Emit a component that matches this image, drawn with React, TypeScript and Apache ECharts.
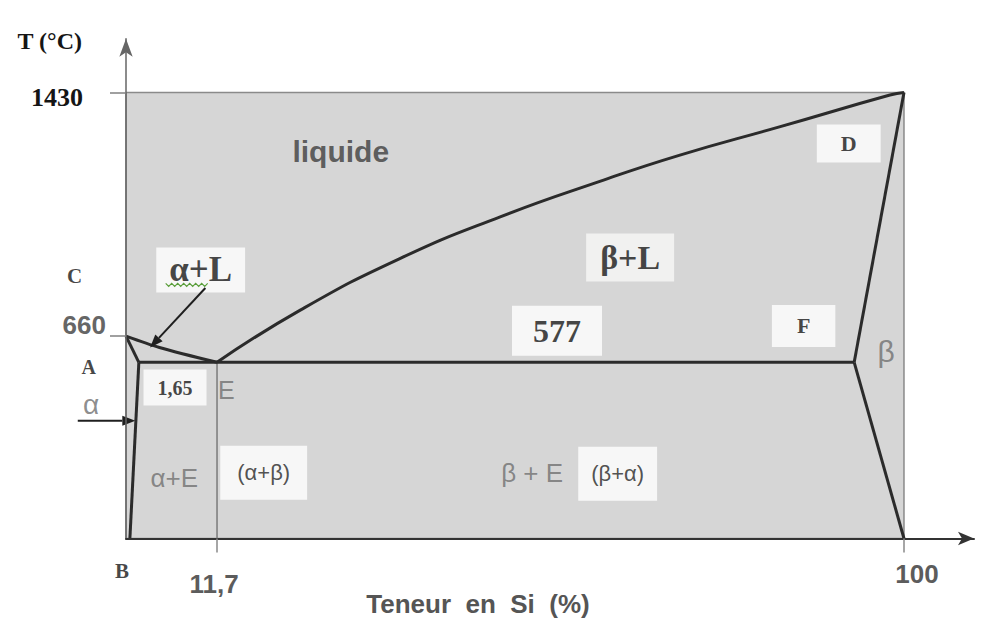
import React, { useEffect, useRef } from 'react';
import * as echarts from 'echarts';

// Phase boundaries of the Al–Si system: [Si content (%), temperature (°C)]
const liquidusAl = [[0, 660], [4.3, 624], [11.7, 577]];
const liquidusSi = [
  [11.7, 577], [22.4, 742], [35.2, 905], [48.1, 1037], [60.9, 1149],
  [71.2, 1232], [84.1, 1322], [98.2, 1422], [100, 1430],
];
const solidusAl = [[0, 660], [1.65, 577]];
const solvusAl = [[1.65, 577], [0.5, 20]];
const eutecticLine = [[1.65, 577], [93.6, 577]];
const solidusSi = [[100, 1430], [93.6, 577]];
const solvusSi = [[93.6, 577], [100, 20]];
const eutecticComposition = [[11.7, 577], [11.7, 20]];

// Axis ticks
const xTicks = [11.7, 100];
const yTicks = [660, 1430];

// Diagram extent
const T_ROOM = 20;
const T_SI_MELT = 1430;

const SERIF = '"Liberation Serif", "DejaVu Serif", serif';
const SANS = '"Liberation Sans", "DejaVu Sans", sans-serif';

type Note = { text: string; x: number; y: number; kind: string; size: number; pad?: number[] };

// Region and point labels, anchored in diagram coordinates
const notes: Note[] = [
  { text: 'C', x: -6.6, y: 850, kind: 'serif', size: 21 },
  { text: 'A', x: -4.8, y: 562, kind: 'serif', size: 20 },
  { text: 'α', x: -4.5, y: 445, kind: 'grey', size: 28 },
  { text: '1,65', x: 6.3, y: 497, kind: 'box', size: 20, pad: [8, 14] },
  { text: 'E', x: 12.9, y: 490, kind: 'grey', size: 25 },
  { text: 'α+L', x: 9.6, y: 869, kind: 'box', size: 35, pad: [5, 13] },
  { text: 'liquide', x: 27.6, y: 1242, kind: 'dark', size: 30 },
  { text: 'β+L', x: 64.8, y: 908, kind: 'boxSoft', size: 34, pad: [7, 14] },
  { text: '577', x: 55.4, y: 677, kind: 'box', size: 32, pad: [9, 21] },
  { text: 'D', x: 92.9, y: 1269, kind: 'box', size: 22, pad: [8, 24] },
  { text: 'F', x: 87.1, y: 692, kind: 'box', size: 22, pad: [10, 25] },
  { text: 'β', x: 97.7, y: 610, kind: 'grey', size: 30 },
  { text: 'α+E', x: 6.2, y: 212, kind: 'grey', size: 26 },
  { text: '(α+β)', x: 17.7, y: 228, kind: 'boxSans', size: 22, pad: [16, 17] },
  { text: 'β + E', x: 52.2, y: 226, kind: 'grey', size: 26 },
  { text: '(β+α)', x: 63.2, y: 225, kind: 'boxSans', size: 22, pad: [16, 13] },
  { text: 'B', x: -0.5, y: -83, kind: 'serif', size: 21 },
];

// Pointer arrows: [x1, T1, x2, T2], arrowhead at the second point
const arrows = [
  [-6.2, 392, 1.2, 392],
  [10.2, 812, 3.1, 624],
];

function labelStyle(n: Note) {
  const base: any = { show: true, position: 'inside', formatter: n.text, fontSize: n.size };
  switch (n.kind) {
    case 'serif':
      return { ...base, fontFamily: SERIF, fontWeight: 'bold', color: '#151515' };
    case 'box':
      return { ...base, fontFamily: SERIF, fontWeight: 'bold', color: '#151515', backgroundColor: '#ffffff', padding: n.pad };
    case 'boxSoft':
      return { ...base, fontFamily: SERIF, fontWeight: 'bold', color: '#151515', backgroundColor: '#f8f8f6', padding: n.pad };
    case 'boxSans':
      return { ...base, fontFamily: SANS, color: '#262626', backgroundColor: '#ffffff', padding: n.pad };
    case 'dark':
      return { ...base, fontFamily: SANS, fontWeight: 'bold', color: '#3d3d3d' };
    default:
      return { ...base, fontFamily: SANS, color: '#707070' };
  }
}

const boundary = (name: string, data: number[][], smooth: number | boolean = false) => ({
  name,
  type: 'line',
  data,
  smooth,
  showSymbol: false,
  symbol: 'none',
  silent: true,
  clip: false,
  z: 3,
  lineStyle: { color: '#2b2b2b', width: 3 },
});

export default function App() {
  const ref = useRef<HTMLDivElement>(null);

  useEffect(() => {
    if (!ref.current) return;
    const chart = echarts.init(ref.current, null, { renderer: 'svg' });

    const option: any = {
      animation: false,
      backgroundColor: '#ffffff',
      grid: { left: 126, right: 7, top: 38.7, bottom: 87.5, containLabel: false, outerBoundsMode: 'none' },
      xAxis: {
        type: 'value',
        min: 0,
        max: 109,
        z: 10,
        name: 'Teneur  en  Si  (%)',
        nameLocation: 'middle',
        nameGap: 52,
        nameMoveOverlap: false,
        nameTextStyle: {
          fontFamily: SANS, fontWeight: 'bold', fontSize: 26, color: '#555555',
          padding: [0, 144, 0, 0],
        },
        splitLine: { show: false },
        axisLine: {
          show: true,
          symbol: ['none', 'arrow'],
          symbolSize: [10, 16],
          lineStyle: { color: '#333333', width: 2 },
        },
        axisTick: {
          show: true,
          customValues: xTicks,
          length: 14,
          lineStyle: { color: '#888888', width: 1.5 },
        },
        axisLabel: {
          customValues: xTicks,
          margin: 22,
          formatter: (v: number) =>
            v === 100 ? '{b|100}' : '{a|' + String(v).replace('.', ',') + '}',
          rich: {
            a: { fontFamily: SANS, fontWeight: 'bold', fontSize: 26, color: '#5c5c5c', padding: [10, 6, 0, 0] },
            b: { fontFamily: SANS, fontWeight: 'bold', fontSize: 26, color: '#5c5c5c', padding: [0, 0, 0, 26] },
          },
        },
      },
      yAxis: {
        type: 'value',
        min: T_ROOM,
        max: 1600,
        z: 10,
        name: 'T (°C)',
        nameLocation: 'end',
        nameGap: -2,
        nameTextStyle: {
          fontFamily: SERIF, fontWeight: 'bold', fontSize: 24, color: '#151515',
          align: 'right', verticalAlign: 'middle', padding: [0, 44, 0, 0],
        },
        splitLine: { show: false },
        axisLine: {
          show: true,
          symbol: ['none', 'arrow'],
          symbolSize: [10, 18],
          lineStyle: { color: '#666666', width: 1.5 },
        },
        axisTick: {
          show: true,
          customValues: yTicks,
          length: 16,
          lineStyle: { color: '#808080', width: 1.5 },
        },
        axisLabel: {
          customValues: yTicks,
          margin: 20,
          formatter: (v: number) => (v === 1430 ? '{t|1430}' : '{g|' + v + '}'),
          rich: {
            t: { fontFamily: SERIF, fontWeight: 'bold', fontSize: 26, color: '#151515', padding: [11, 23, 0, 0] },
            g: { fontFamily: SANS, fontWeight: 'bold', fontSize: 26, color: '#666666', padding: [0, 0, 22, 0] },
          },
        },
      },
      series: [
        {
          name: 'domain',
          type: 'line',
          data: [[0, T_ROOM], [100, T_ROOM]],
          showSymbol: false,
          symbol: 'none',
          silent: true,
          z: 1,
          lineStyle: { width: 0, opacity: 0 },
          markArea: {
            silent: true,
            itemStyle: { color: '#d6d6d6', borderColor: '#8a8a8a', borderWidth: 1.5 },
            data: [[{ coord: [0, T_ROOM] }, { coord: [100, T_SI_MELT] }]],
          },
        },
        {
          name: 'eutectic composition',
          type: 'line',
          data: eutecticComposition,
          showSymbol: false,
          symbol: 'none',
          silent: true,
          clip: false,
          z: 2,
          lineStyle: { color: '#7a7a7a', width: 1.5 },
        },
        boundary('liquidus Al', liquidusAl, 0.3),
        boundary('liquidus Si', liquidusSi, 0.5),
        boundary('solidus Al', solidusAl),
        boundary('solvus Al', solvusAl),
        boundary('eutectic', eutecticLine),
        boundary('solidus Si', solidusSi),
        boundary('solvus Si', solvusSi),
        {
          name: 'pointers',
          type: 'custom',
          clip: false,
          silent: true,
          z: 7,
          encode: { x: [0, 2], y: [1, 3] },
          data: arrows,
          renderItem: (_params: any, api: any) => {
            const p1 = api.coord([api.value(0), api.value(1)]);
            const p2 = api.coord([api.value(2), api.value(3)]);
            const ang = Math.atan2(p2[1] - p1[1], p2[0] - p1[0]);
            const len = 13;
            const half = 5;
            const bx = p2[0] - len * Math.cos(ang);
            const by = p2[1] - len * Math.sin(ang);
            const nx = -Math.sin(ang) * half;
            const ny = Math.cos(ang) * half;
            return {
              type: 'group',
              children: [
                { type: 'line', shape: { x1: p1[0], y1: p1[1], x2: bx, y2: by }, style: { stroke: '#1f1f1f', lineWidth: 2 } },
                {
                  type: 'polygon',
                  shape: { points: [[p2[0], p2[1]], [bx + nx, by + ny], [bx - nx, by - ny]] },
                  style: { fill: '#1f1f1f' },
                },
              ],
            };
          },
        },
        {
          name: 'labels',
          type: 'scatter',
          clip: false,
          silent: true,
          z: 6,
          symbolSize: 1,
          itemStyle: { color: 'rgba(0,0,0,0)' },
          data: notes.map((n) => ({ value: [n.x, n.y], label: labelStyle(n) })),
        },
      ],
    };

    chart.setOption(option);

    // Wavy underline beneath the α+L label
    const al = notes.find((n) => n.text === 'α+L');
    if (al) {
      const [cx, cy] = chart.convertToPixel({ gridIndex: 0 }, [al.x, al.y]) as number[];
      const pts: number[][] = [];
      for (let i = 0; i <= 14; i++) pts.push([cx - 35 + i * 3, cy + 15 + (i % 2 === 0 ? -1.5 : 1.5)]);
      chart.setOption({
        graphic: [{ type: 'polyline', silent: true, z: 20, shape: { points: pts }, style: { stroke: '#5a9e3a', lineWidth: 1.2, fill: null } }],
      });
    }

    return () => chart.dispose();
  }, []);

  return (
    <div
      ref={ref}
      style={{ position: 'fixed', left: 0, top: 0, width: 981, height: 626, background: '#fff' }}
    />
  );
}
